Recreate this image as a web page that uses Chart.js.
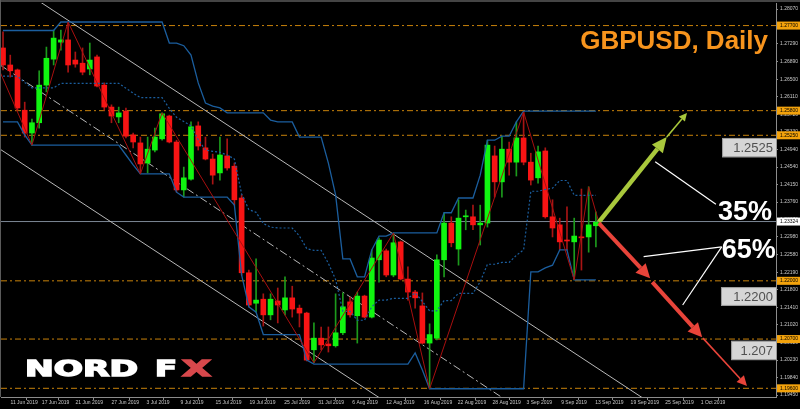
<!DOCTYPE html>
<html>
<head>
<meta charset="utf-8">
<script src="https://cdn.jsdelivr.net/npm/chart.js@4.4.1/dist/chart.umd.min.js"></script>
<style>
  html, body { margin: 0; padding: 0; background: #000; }
  #wrap { width: 800px; height: 409px; }
</style>
</head>
<body>
<div id="wrap"><canvas id="chart" width="800" height="409"></canvas></div>
<script>
// GBPUSD daily candles (index 0 = first bar on the left, Sunday bars included)
const opens = [
  1.2720, 1.2682, 1.2671, 1.2581, 1.2530, 1.2553, 1.2637, 1.2695, 1.2733, 1.2738,
  1.2693, 1.2686, 1.2673, 1.2700, 1.2637, 1.2588, 1.2566, 1.2579, 1.2526, 1.2508,
  1.2463, 1.2492, 1.2517, 1.2568, 1.2510, 1.2403, 1.2427, 1.2546, 1.2497, 1.2472,
  1.2441, 1.2479, 1.2456, 1.2385, 1.2218, 1.2150, 1.2159, 1.2124, 1.2155, 1.2135,
  1.2162, 1.2139, 1.2128, 1.2046, 1.2072, 1.2059, 1.2055, 1.2084, 1.2153, 1.2122,
  1.2166, 1.2119, 1.2247, 1.2267, 1.2213, 1.2287, 1.2204, 1.2175, 1.2144, 1.2061,
  1.2072, 1.2247, 1.2329, 1.2271, 1.2343, 1.2343, 1.2325, 1.2329, 1.2479, 1.2421,
  1.2494, 1.2465, 1.2519, 1.2465, 1.2430, 1.2490, 1.2343, 1.2325, 1.2291, 1.2287,
  1.2298, 1.2298, 1.2323
];
const highs = [
  1.2756, 1.2704, 1.2673, 1.2599, 1.2561, 1.2669, 1.2722, 1.2760, 1.2760, 1.2778,
  1.2711, 1.2720, 1.2731, 1.2704, 1.2642, 1.2593, 1.2588, 1.2586, 1.2530, 1.2521,
  1.2521, 1.2541, 1.2575, 1.2570, 1.2514, 1.2454, 1.2555, 1.2555, 1.2521, 1.2483,
  1.2521, 1.2517, 1.2463, 1.2392, 1.2224, 1.2249, 1.2171, 1.2171, 1.2184, 1.2209,
  1.2188, 1.2146, 1.2130, 1.2106, 1.2097, 1.2097, 1.2171, 1.2173, 1.2164, 1.2175,
  1.2168, 1.2269, 1.2296, 1.2271, 1.2307, 1.2289, 1.2231, 1.2179, 1.2173, 1.2104,
  1.2258, 1.2352, 1.2343, 1.2381, 1.2358, 1.2369, 1.2369, 1.2514, 1.2501, 1.2523,
  1.2510, 1.2555, 1.2577, 1.2485, 1.2501, 1.2497, 1.2381, 1.2340, 1.2365, 1.2340,
  1.2405, 1.2410, 1.2354
];
const lows = [
  1.2671, 1.2655, 1.2581, 1.2521, 1.2503, 1.2541, 1.2622, 1.2682, 1.2715, 1.2666,
  1.2677, 1.2660, 1.2660, 1.2633, 1.2581, 1.2553, 1.2553, 1.2519, 1.2497, 1.2439,
  1.2441, 1.2488, 1.2514, 1.2508, 1.2398, 1.2387, 1.2425, 1.2492, 1.2470, 1.2416,
  1.2425, 1.2447, 1.2369, 1.2213, 1.2142, 1.2130, 1.2099, 1.2113, 1.2106, 1.2124,
  1.2119, 1.2097, 1.2021, 1.2017, 1.2046, 1.2041, 1.2052, 1.2080, 1.2119, 1.2061,
  1.2117, 1.2117, 1.2197, 1.2209, 1.2209, 1.2202, 1.2157, 1.2139, 1.2059, 1.1959,
  1.2068, 1.2209, 1.2276, 1.2235, 1.2314, 1.2314, 1.2280, 1.2320, 1.2387, 1.2387,
  1.2436, 1.2434, 1.2459, 1.2414, 1.2418, 1.2340, 1.2298, 1.2269, 1.2269, 1.2202,
  1.2224, 1.2264, 1.2276
];
const closes = [
  1.2682, 1.2669, 1.2586, 1.2530, 1.2553, 1.2637, 1.2697, 1.2742, 1.2738, 1.2682,
  1.2684, 1.2666, 1.2693, 1.2635, 1.2588, 1.2568, 1.2575, 1.2523, 1.2510, 1.2461,
  1.2494, 1.2521, 1.2573, 1.2510, 1.2403, 1.2430, 1.2544, 1.2501, 1.2472, 1.2436,
  1.2481, 1.2452, 1.2381, 1.2218, 1.2146, 1.2157, 1.2124, 1.2159, 1.2146, 1.2162,
  1.2137, 1.2128, 1.2023, 1.2072, 1.2057, 1.2055, 1.2084, 1.2142, 1.2124, 1.2166,
  1.2119, 1.2251, 1.2291, 1.2213, 1.2285, 1.2204, 1.2175, 1.2162, 1.2061, 1.2080,
  1.2247, 1.2329, 1.2285, 1.2340, 1.2345, 1.2325, 1.2329, 1.2503, 1.2421, 1.2494,
  1.2465, 1.2519, 1.2465, 1.2425, 1.2488, 1.2343, 1.2318, 1.2287, 1.2289, 1.2300,
  1.2296, 1.2325, 1.2331
];

// price channel (upper / lower / dotted middle)
const donchUpper = [
  1.2759, 1.2759, 1.2759, 1.2759, 1.2759, 1.2759, 1.2759, 1.2759, 1.2778, 1.2778,
  1.2778, 1.2778, 1.2778, 1.2778, 1.2778, 1.2778, 1.2778, 1.2778, 1.2778, 1.2778,
  1.2778, 1.2778, 1.2778, 1.2731, 1.2731, 1.2725, 1.2704, 1.2642, 1.2597, 1.2590,
  1.2586, 1.2575, 1.2575, 1.2575, 1.2575, 1.2575, 1.2575, 1.2559, 1.2555, 1.2555,
  1.2555, 1.2521, 1.2521, 1.2521, 1.2521, 1.2463, 1.2392, 1.2249, 1.2249, 1.2209,
  1.2209, 1.2269, 1.2300, 1.2300, 1.2307, 1.2307, 1.2307, 1.2307, 1.2307, 1.2307,
  1.2307, 1.2352, 1.2352, 1.2385, 1.2385, 1.2385, 1.2436, 1.2514, 1.2514, 1.2523,
  1.2523, 1.2555, 1.2579, 1.2579, 1.2579, 1.2579, 1.2579, 1.2579, 1.2579, 1.2579,
  1.2579, 1.2579, 1.2579
];
const donchLower = [
  1.2555, 1.2555, 1.2555, 1.2526, 1.2503, 1.2503, 1.2503, 1.2503, 1.2503, 1.2503,
  1.2503, 1.2503, 1.2503, 1.2503, 1.2503, 1.2503, 1.2503, 1.2481, 1.2459, 1.2439,
  1.2439, 1.2439, 1.2439, 1.2439, 1.2398, 1.2387, 1.2387, 1.2387, 1.2387, 1.2387,
  1.2387, 1.2387, 1.2369, 1.2213, 1.2142, 1.2130, 1.2080, 1.2080, 1.2080, 1.2080,
  1.2080, 1.2080, 1.2023, 1.2014, 1.2014, 1.2014, 1.2014, 1.2014, 1.2014, 1.2014,
  1.2014, 1.2014, 1.2014, 1.2014, 1.2014, 1.2014, 1.2014, 1.2039, 1.2001, 1.1959,
  1.1959, 1.1959, 1.1959, 1.1959, 1.1959, 1.1959, 1.1959, 1.1959, 1.1959, 1.1959,
  1.1959, 1.1959, 1.1959, 1.2220, 1.2220, 1.2229, 1.2235, 1.2269, 1.2269, 1.2202,
  1.2202, 1.2202, 1.2202
];
const donchMid = [
  1.2657, 1.2657, 1.2657, 1.2643, 1.2631, 1.2631, 1.2631, 1.2631, 1.2641, 1.2641,
  1.2641, 1.2641, 1.2641, 1.2641, 1.2641, 1.2641, 1.2641, 1.2630, 1.2619, 1.2609,
  1.2609, 1.2609, 1.2609, 1.2585, 1.2565, 1.2556, 1.2546, 1.2515, 1.2492, 1.2489,
  1.2487, 1.2481, 1.2472, 1.2394, 1.2359, 1.2353, 1.2328, 1.2320, 1.2318, 1.2318,
  1.2318, 1.2300, 1.2272, 1.2268, 1.2268, 1.2239, 1.2203, 1.2132, 1.2132, 1.2112,
  1.2112, 1.2142, 1.2157, 1.2157, 1.2161, 1.2161, 1.2161, 1.2173, 1.2154, 1.2133,
  1.2133, 1.2156, 1.2156, 1.2172, 1.2172, 1.2172, 1.2198, 1.2237, 1.2237, 1.2241,
  1.2241, 1.2257, 1.2269, 1.2400, 1.2400, 1.2404, 1.2407, 1.2424, 1.2424, 1.2391,
  1.2391, 1.2391, 1.2391
];

// zigzag turning points
const zigzagIdx = [-0.4, 4, 9, 19, 22, 43, 54, 59, 72, 79, 81, 82.4];
const zigzagPrice = [1.2666, 1.2503, 1.2778, 1.2439, 1.2575, 1.2017, 1.2307, 1.1959, 1.2577, 1.2202, 1.2410, 1.2331];

// channel trend lines (upper, lower, dash-dot middle)
const trendIdx = [[5.12, 88.52], [-0.41, 52.14], [-0.41, 69.16]];
const trendPrice = [[1.2823, 1.1938], [1.2494, 1.1938], [1.2682, 1.1938]];

// axes
const dateLabels = ['11 Jun 2019', '17 Jun 2019', '21 Jun 2019', '27 Jun 2019', '3 Jul 2019', '9 Jul 2019',
  '15 Jul 2019', '19 Jul 2019', '25 Jul 2019', '31 Jul 2019', '6 Aug 2019', '12 Aug 2019', '16 Aug 2019',
  '22 Aug 2019', '28 Aug 2019', '3 Sep 2019', '9 Sep 2019', '13 Sep 2019', '19 Sep 2019', '25 Sep 2019', '1 Oct 2019'];
const datePos = [1.04, 5.37, 10.03, 15.0, 19.85, 24.55, 29.4, 34.1, 38.9, 43.6, 48.3, 53.0, 58.2,
  62.9, 67.7, 72.4, 77.2, 81.9, 86.8, 91.6, 96.5];
const priceTicks = [1.28070, 1.27680, 1.27290, 1.26890, 1.26500, 1.26110, 1.25720, 1.25330, 1.24940,
  1.24540, 1.24150, 1.23760, 1.23370, 1.22980, 1.22580, 1.22190, 1.21800, 1.21410, 1.21020,
  1.20620, 1.20230, 1.19840, 1.19450];

// key levels and current price
const levels = [1.27700, 1.25800, 1.25250, 1.22000, 1.20700, 1.19600];
const lastPrice = 1.23324;

// forecast arrows
const upSegIdx = [[82.4, 91.8], [91.8, 94.6]];
const upSegPrice = [[1.2331, 1.2521], [1.2521, 1.2575]];
const downSegIdx = [[82.4, 89.5], [89.8, 96.7], [96.8, 102.9]];
const downSegPrice = [[1.2329, 1.2206], [1.2197, 1.2074], [1.2072, 1.1965]];

// callouts
const pctText = ['35%', '65%'];
const pctIdx = [98.9, 99.4];
const pctPrice = [1.2336, 1.2251];
const calloutIdx = [[98.6, 90.2], [99.4, 88.6], [99.4, 94.0]];
const calloutPrice = [[1.2371, 1.2466], [1.2276, 1.2254], [1.2276, 1.2146]];
const boxText = ['1.2525', '1.2200', '1.207'];
const boxIdx = [99.45, 99.3, 100.7];
const boxTop = [1.2519, 1.2186, 1.2066];
const boxBottom = [1.2476, 1.2144, 1.2023];

const X_MIN = -0.28, X_MAX = 106.91;
const Y_MIN = 1.19406, Y_MAX = 1.28204;

const BODY_UP = '#10f510', BODY_DN = '#f81414';
const WICK_UP = '#1c9a1c', WICK_DN = '#a81414';
const CHANNEL = '#1b5e9e';
const LEVEL = '#c8820a';
const AXIS = '#8c8c8c';

const idx = opens.map((_, i) => i);
const isUp = i => closes[i] >= opens[i];
const seg = (xs, ys) => xs.map((x, k) => ({ x, y: ys[k] }));

const datasets = [
  {
    type: 'bar', data: idx.map(i => ({ x: i, y: [opens[i], closes[i]] })),
    backgroundColor: c => isUp(c.dataIndex) ? BODY_UP : BODY_DN,
    barThickness: 5, grouped: false, minBarLength: 1, borderWidth: 0, order: 4
  },
  {
    type: 'bar', data: idx.map(i => ({ x: i, y: [lows[i], highs[i]] })),
    backgroundColor: c => isUp(c.dataIndex) ? WICK_UP : WICK_DN,
    barThickness: 1, grouped: false, borderWidth: 0, order: 5
  },
  { type: 'line', data: seg(idx, donchUpper), borderColor: CHANNEL, borderWidth: 1.3, order: 3 },
  { type: 'line', data: seg(idx, donchLower), borderColor: CHANNEL, borderWidth: 1.3, order: 3 },
  { type: 'line', data: seg(idx, donchMid), borderColor: CHANNEL, borderWidth: 1.2, borderDash: [2, 2], order: 3 },
  { type: 'line', data: seg(zigzagIdx, zigzagPrice), borderColor: '#a80f0f', borderWidth: 1, order: 2 },
  { type: 'line', data: seg([X_MIN, X_MAX], [lastPrice, lastPrice]), borderColor: '#7b8794', borderWidth: 1, order: 11 }
];
trendIdx.forEach((xs, k) => datasets.push({
  type: 'line', data: seg(xs, trendPrice[k]), borderColor: '#b8b8b8', borderWidth: 1,
  borderDash: k === 2 ? [8, 3, 2, 3] : [], order: 9
}));
levels.forEach(v => datasets.push({
  type: 'line', data: seg([X_MIN, X_MAX], [v, v]), borderColor: LEVEL, borderWidth: 1,
  borderDash: [6, 3, 2, 3], order: 10
}));
datasets.forEach(d => { if (d.type === 'line') { d.pointRadius = 0; d.tension = 0; d.fill = false; } });

function arrow(ctx, x1, y1, x2, y2, w, hl, hw, color) {
  const a = Math.atan2(y2 - y1, x2 - x1);
  const bx = x2 - hl * Math.cos(a), by = y2 - hl * Math.sin(a);
  ctx.strokeStyle = color;
  ctx.lineWidth = w;
  ctx.beginPath(); ctx.moveTo(x1, y1); ctx.lineTo(bx, by); ctx.stroke();
  ctx.fillStyle = color;
  ctx.beginPath();
  ctx.moveTo(x2, y2);
  ctx.lineTo(bx + hw * Math.sin(a), by - hw * Math.cos(a));
  ctx.lineTo(bx - hw * Math.sin(a), by + hw * Math.cos(a));
  ctx.closePath(); ctx.fill();
}

// wide heavy letters for the logo: stretched fill plus a stroke for weight
function stretchText(ctx, text, x, y, width) {
  const m = ctx.measureText(text).width;
  ctx.save();
  ctx.translate(x, y);
  ctx.scale(width / m, 1);
  ctx.lineWidth = 1.4;
  ctx.lineJoin = 'miter';
  ctx.fillText(text, 0, 0);
  ctx.strokeText(text, 0, 0);
  ctx.restore();
}

const backdrop = {
  id: 'backdrop',
  beforeDraw(chart) {
    const { ctx, width, height } = chart;
    ctx.save();
    ctx.fillStyle = '#000';
    ctx.fillRect(0, 0, width, height);
    ctx.fillStyle = '#444';
    ctx.fillRect(0, 0, width, 2);
    ctx.fillStyle = '#5a5a5a';
    ctx.fillRect(0, 0, 1, 397);
    ctx.restore();
  }
};

const overlay = {
  id: 'overlay',
  afterDatasetsDraw(chart) {
    const { ctx, scales: { x, y } } = chart;
    const px = v => x.getPixelForValue(v), py = v => y.getPixelForValue(v);
    ctx.save();
    ctx.lineCap = 'butt';
    // callout lines
    ctx.strokeStyle = '#ffffff';
    ctx.lineWidth = 1.2;
    calloutIdx.forEach((xs, k) => {
      ctx.beginPath();
      ctx.moveTo(px(xs[0]), py(calloutPrice[k][0]));
      ctx.lineTo(px(xs[1]), py(calloutPrice[k][1]));
      ctx.stroke();
    });
    // arrows
    const upStyle = [[4.5, 15, 7], [1.6, 8, 4]];
    upSegIdx.forEach((xs, k) => arrow(ctx, px(xs[0]), py(upSegPrice[k][0]), px(xs[1]), py(upSegPrice[k][1]),
      upStyle[k][0], upStyle[k][1], upStyle[k][2], '#a9c83c'));
    const dnStyle = [[4, 14, 7], [4, 14, 7], [1.6, 10, 5]];
    downSegIdx.forEach((xs, k) => arrow(ctx, px(xs[0]), py(downSegPrice[k][0]), px(xs[1]), py(downSegPrice[k][1]),
      dnStyle[k][0], dnStyle[k][1], dnStyle[k][2], '#e8443a'));
    // percentages
    ctx.fillStyle = '#ffffff';
    ctx.font = 'bold 27px "Liberation Sans"';
    ctx.textAlign = 'left';
    ctx.textBaseline = 'alphabetic';
    pctText.forEach((t, k) => ctx.fillText(t, px(pctIdx[k]), py(pctPrice[k])));
    ctx.restore();
  },
  afterDraw(chart) {
    const { ctx, chartArea, scales: { x, y } } = chart;
    const px = v => x.getPixelForValue(v), py = v => y.getPixelForValue(v);
    ctx.save();
    // highlighted labels on the price axis
    ctx.font = '5px "Liberation Sans"';
    ctx.textBaseline = 'middle';
    ctx.textAlign = 'left';
    levels.forEach(v => {
      const yy = py(v);
      ctx.fillStyle = '#f2a20c';
      ctx.fillRect(chartArea.right + 1, yy - 4, 23, 8);
      ctx.fillStyle = '#000';
      ctx.fillText(v.toFixed(5), chartArea.right + 4, yy);
    });
    const ly = py(lastPrice);
    ctx.fillStyle = '#ffffff';
    ctx.fillRect(chartArea.right + 1, ly - 4, 23, 8);
    ctx.fillStyle = '#000';
    ctx.fillText(lastPrice.toFixed(5), chartArea.right + 4, ly);
    // target boxes
    ctx.font = '13px "Liberation Sans"';
    boxText.forEach((t, k) => {
      const left = px(boxIdx[k]), top = py(boxTop[k]), bottom = py(boxBottom[k]);
      const right = chartArea.right + 1;
      ctx.fillStyle = '#d6d6d6';
      ctx.fillRect(left, top, right - left, bottom - top);
      ctx.strokeStyle = '#9a9a9a';
      ctx.lineWidth = 1;
      ctx.strokeRect(left + 0.5, top + 0.5, right - left - 1, bottom - top - 1);
      ctx.fillStyle = '#505050';
      ctx.textAlign = 'right';
      ctx.fillText(t, right - 4, (top + bottom) / 2 + 1);
    });
    // title
    ctx.fillStyle = '#f7941d';
    ctx.font = 'bold 26px "Liberation Sans"';
    ctx.textAlign = 'right';
    ctx.textBaseline = 'alphabetic';
    ctx.fillText('GBPUSD, Daily', 768, 49);
    // logo
    ctx.textAlign = 'left';
    ctx.font = 'bold 21px "DejaVu Sans"';
    ctx.fillStyle = '#ffffff';
    ctx.strokeStyle = '#ffffff';
    stretchText(ctx, 'NORD', 25, 376, 113);
    stretchText(ctx, 'F', 155, 376, 22);
    const g = ctx.createLinearGradient(0, 361, 0, 376);
    g.addColorStop(0, '#d8484c');
    g.addColorStop(0.5, '#d8484c');
    g.addColorStop(0.5, '#62b562');
    g.addColorStop(1, '#62b562');
    ctx.fillStyle = g;
    ctx.strokeStyle = g;
    stretchText(ctx, 'X', 182, 376, 29);
    ctx.restore();
  }
};

new Chart(document.getElementById('chart'), {
  type: 'line',
  data: { datasets },
  options: {
    responsive: false,
    animation: false,
    events: [],
    devicePixelRatio: 1,
    layout: { padding: { top: 3, left: 1, right: 0, bottom: 0 } },
    plugins: { legend: { display: false }, tooltip: { enabled: false } },
    scales: {
      x: {
        type: 'linear', position: 'bottom', min: X_MIN, max: X_MAX, offset: false,
        grid: { display: true, drawOnChartArea: false, drawTicks: true, tickLength: 3, color: AXIS },
        border: { display: true, color: AXIS },
        afterBuildTicks: s => { s.ticks = datePos.map(v => ({ value: v })); },
        afterFit: s => { s.height = 12; s.paddingLeft = 0; s.paddingRight = 0; },
        ticks: {
          autoSkip: false, maxRotation: 0, minRotation: 0, align: 'start', padding: 0,
          color: '#c8c8c8', font: { size: 5, family: 'Liberation Sans' },
          callback: (v, i) => dateLabels[i]
        }
      },
      y: {
        type: 'linear', position: 'right', min: Y_MIN, max: Y_MAX,
        grid: { display: true, drawOnChartArea: false, drawTicks: true, tickLength: 2, color: AXIS },
        border: { display: true, color: AXIS },
        afterBuildTicks: s => { s.ticks = priceTicks.map(v => ({ value: v })); },
        afterFit: s => { s.width = 24; s.paddingTop = 0; s.paddingBottom = 0; },
        ticks: {
          autoSkip: false, padding: 2, color: '#c8c8c8',
          font: { size: 5, family: 'Liberation Sans' },
          callback: v => v.toFixed(5)
        }
      }
    }
  },
  plugins: [backdrop, overlay]
});
</script>
</body>
</html>
